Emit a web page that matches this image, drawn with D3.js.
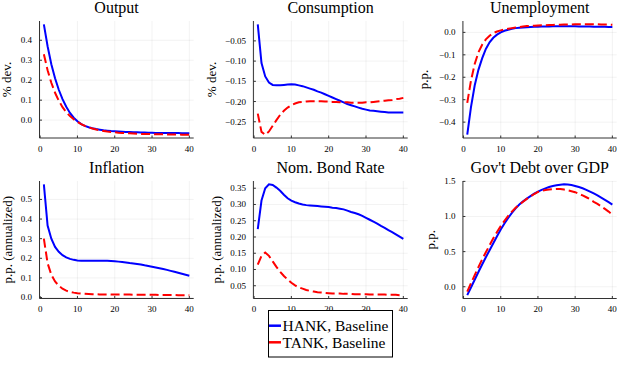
<!DOCTYPE html>
<html lang="en">
<head>
<meta charset="UTF-8" />
<title>HANK vs TANK - impulse responses</title>
<style>
  body { margin: 0; background: #fff; }
  svg { display: block; font-family: "Liberation Serif", "DejaVu Serif", serif; }
  .grid { stroke: #000; stroke-opacity: 0.1; stroke-width: 0.5; }
  .axis { stroke: #333; stroke-width: 1; }
  .tick { stroke: #333; stroke-width: 1; }
  .tick-label { font-size: 9px; fill: #000; }
  .title { font-size: 16px; text-anchor: middle; fill: #000; }
  .ylabel { font-size: 13px; text-anchor: middle; fill: #000; }
  .hank { fill: none; stroke: #0000ff; stroke-width: 2; }
  .tank { fill: none; stroke: #ff0000; stroke-width: 2; stroke-dasharray: 9,4; }
  .legend-text { font-size: 15.5px; fill: #000; }
</style>
</head>
<body>
<svg id="chart" width="625" height="375"></svg>
<script src="https://cdn.jsdelivr.net/npm/d3@7"></script>
<script>
// quarters after the shock
const periods = d3.range(1, 41);
const xTicks = [0, 10, 20, 30, 40];

const hankOutput = [0.48, 0.37, 0.28, 0.21, 0.152, 0.105, 0.067, 0.036, 0.012, -0.006,
  -0.02, -0.029, -0.036, -0.041, -0.045, -0.048, -0.051, -0.053, -0.055, -0.056,
  -0.057, -0.058, -0.059, -0.06, -0.061, -0.061, -0.062, -0.062, -0.063, -0.063,
  -0.064, -0.064, -0.064, -0.065, -0.065, -0.065, -0.065, -0.066, -0.066, -0.066];
const tankOutput = [0.33, 0.25, 0.187, 0.137, 0.097, 0.065, 0.04, 0.02, 0.004, -0.009,
  -0.02, -0.029, -0.036, -0.042, -0.047, -0.051, -0.054, -0.057, -0.059, -0.061,
  -0.063, -0.064, -0.065, -0.066, -0.067, -0.068, -0.069, -0.069, -0.07, -0.07,
  -0.071, -0.071, -0.071, -0.072, -0.072, -0.072, -0.072, -0.073, -0.073, -0.073];

const hankCons = [-0.009, -0.105, -0.138, -0.153, -0.159, -0.16, -0.16, -0.159, -0.158, -0.157,
  -0.158, -0.16, -0.162, -0.165, -0.168, -0.171, -0.175, -0.178, -0.182, -0.186,
  -0.19, -0.194, -0.198, -0.202, -0.206, -0.209, -0.212, -0.215, -0.218, -0.22,
  -0.222, -0.223, -0.224, -0.225, -0.226, -0.227, -0.227, -0.227, -0.227, -0.227];
const tankCons = [-0.23, -0.275, -0.282, -0.274, -0.26, -0.246, -0.233, -0.223, -0.215, -0.209,
  -0.205, -0.202, -0.201, -0.2, -0.199, -0.199, -0.199, -0.199, -0.2, -0.2,
  -0.201, -0.201, -0.202, -0.202, -0.202, -0.203, -0.203, -0.203, -0.203, -0.202,
  -0.202, -0.201, -0.2, -0.199, -0.198, -0.197, -0.196, -0.194, -0.193, -0.191];

const hankUnemp = [-0.456, -0.333, -0.237, -0.167, -0.116, -0.074, -0.044, -0.024, -0.01, 0.0,
  0.007, 0.012, 0.016, 0.019, 0.021, 0.022, 0.023, 0.024, 0.025, 0.025,
  0.026, 0.026, 0.026, 0.027, 0.027, 0.027, 0.027, 0.027, 0.027, 0.027,
  0.026, 0.026, 0.026, 0.026, 0.025, 0.025, 0.025, 0.025, 0.024, 0.024];
const tankUnemp = [-0.314, -0.215, -0.141, -0.089, -0.055, -0.031, -0.015, -0.003, 0.004, 0.009,
  0.013, 0.016, 0.019, 0.022, 0.024, 0.026, 0.028, 0.029, 0.03, 0.031,
  0.032, 0.032, 0.033, 0.033, 0.034, 0.034, 0.035, 0.035, 0.035, 0.036,
  0.036, 0.036, 0.036, 0.036, 0.036, 0.036, 0.035, 0.035, 0.035, 0.034];

const hankInfl = [0.577, 0.367, 0.3, 0.258, 0.233, 0.216, 0.205, 0.197, 0.192, 0.189,
  0.188, 0.188, 0.188, 0.188, 0.188, 0.188, 0.187, 0.187, 0.186, 0.185,
  0.183, 0.181, 0.179, 0.176, 0.174, 0.171, 0.168, 0.164, 0.161, 0.157,
  0.153, 0.149, 0.145, 0.141, 0.136, 0.131, 0.126, 0.121, 0.116, 0.111];
const tankInfl = [0.3, 0.175, 0.116, 0.082, 0.06, 0.045, 0.035, 0.029, 0.025, 0.022,
  0.02, 0.019, 0.018, 0.017, 0.017, 0.016, 0.016, 0.016, 0.015, 0.015,
  0.015, 0.015, 0.015, 0.015, 0.014, 0.014, 0.014, 0.014, 0.014, 0.014,
  0.014, 0.013, 0.013, 0.013, 0.013, 0.013, 0.012, 0.012, 0.012, 0.012];

const hankRate = [0.224, 0.312, 0.35, 0.362, 0.36, 0.352, 0.342, 0.33, 0.319, 0.312,
  0.307, 0.303, 0.3, 0.298, 0.297, 0.296, 0.295, 0.294, 0.293, 0.292,
  0.29, 0.289, 0.287, 0.285, 0.281, 0.277, 0.274, 0.27, 0.265, 0.259,
  0.253, 0.247, 0.241, 0.234, 0.228, 0.221, 0.215, 0.208, 0.201, 0.194];
const tankRate = [0.115, 0.142, 0.152, 0.142, 0.125, 0.108, 0.093, 0.08, 0.069, 0.059,
  0.051, 0.045, 0.041, 0.037, 0.034, 0.032, 0.03, 0.029, 0.028, 0.027,
  0.026, 0.026, 0.026, 0.025, 0.025, 0.025, 0.024, 0.024, 0.024, 0.024,
  0.023, 0.023, 0.023, 0.023, 0.023, 0.022, 0.022, 0.022, 0.021, 0.021];

const hankDebt = [-0.12, -0.01, 0.1, 0.21, 0.317, 0.42, 0.52, 0.62, 0.72, 0.815,
  0.9, 0.98, 1.05, 1.115, 1.17, 1.215, 1.255, 1.29, 1.325, 1.355,
  1.38, 1.4, 1.42, 1.435, 1.445, 1.453, 1.458, 1.455, 1.447, 1.435,
  1.42, 1.402, 1.38, 1.355, 1.328, 1.3, 1.27, 1.238, 1.205, 1.17];
const tankDebt = [-0.07, 0.05, 0.165, 0.28, 0.389, 0.49, 0.59, 0.69, 0.78, 0.863,
  0.94, 1.01, 1.07, 1.125, 1.17, 1.21, 1.25, 1.285, 1.32, 1.35,
  1.364, 1.376, 1.385, 1.39, 1.393, 1.39, 1.383, 1.373, 1.36, 1.346,
  1.323, 1.3, 1.274, 1.245, 1.209, 1.18, 1.145, 1.108, 1.07, 1.028];

const outputTicks = [0.0, 0.1, 0.2, 0.3, 0.4];
const consTicks = [-0.25, -0.2, -0.15, -0.1, -0.05];
const unempTicks = [-0.4, -0.3, -0.2, -0.1, 0.0];
const inflTicks = [0.0, 0.1, 0.2, 0.3, 0.4, 0.5];
const rateTicks = [0.05, 0.1, 0.15, 0.2, 0.25, 0.3, 0.35];
const debtTicks = [0.0, 0.5, 1.0, 1.5];

const seriesNames = ["HANK, Baseline", "TANK, Baseline"];

// plot boxes: [left, top, right, bottom], ylabel x
const panels = [
  { title: "Output", ylabel: "% dev.", hank: hankOutput, tank: tankOutput, ticks: outputTicks, fmt: ".1f", box: [39.5, 21, 193.7, 138], lx: 6 },
  { title: "Consumption", ylabel: "% dev.", hank: hankCons, tank: tankCons, ticks: consTicks, fmt: ".2f", box: [253.4, 21, 407.7, 138], lx: 211 },
  { title: "Unemployment", ylabel: "p.p.", hank: hankUnemp, tank: tankUnemp, ticks: unempTicks, fmt: ".1f", box: [462.9, 21, 616.7, 138], lx: 423 },
  { title: "Inflation", ylabel: "p.p. (annualized)", hank: hankInfl, tank: tankInfl, ticks: inflTicks, fmt: ".1f", box: [39.5, 181, 193.7, 298.5], lx: 7 },
  { title: "Nom. Bond Rate", ylabel: "p.p. (annualized)", hank: hankRate, tank: tankRate, ticks: rateTicks, fmt: ".2f", box: [253.4, 181, 407.7, 298.5], lx: 216 },
  { title: "Gov't Debt over GDP", ylabel: "p.p.", hank: hankDebt, tank: tankDebt, ticks: debtTicks, fmt: ".1f", box: [462.9, 181, 616.7, 298.5], lx: 430 }
];

const svg = d3.select("#chart");

// widen like Plots.jl does (3% each side)
function widen(lo, hi) {
  const pad = (hi - lo) * 0.03;
  return [lo - pad, hi + pad];
}

panels.forEach(p => {
  const [x0, y0, x1, y1] = p.box;
  const x = d3.scaleLinear().domain(widen(1, 40)).range([x0, x1]);
  const all = p.hank.concat(p.tank);
  const y = d3.scaleLinear().domain(widen(d3.min(all), d3.max(all))).range([y1, y0]);
  const g = svg.append("g");
  const fmt = d3.format(p.fmt);

  // grid
  g.selectAll(".gx").data(xTicks).enter().append("line")
    .attr("class", "grid")
    .attr("x1", d => x(d)).attr("x2", d => x(d))
    .attr("y1", y0).attr("y2", y1);
  g.selectAll(".gy").data(p.ticks).enter().append("line")
    .attr("class", "grid")
    .attr("x1", x0).attr("x2", x1)
    .attr("y1", d => y(d)).attr("y2", d => y(d));

  // axes (left + bottom only)
  g.append("line").attr("class", "axis")
    .attr("x1", x0).attr("x2", x0).attr("y1", y0).attr("y2", y1);
  g.append("line").attr("class", "axis")
    .attr("x1", x0).attr("x2", x1).attr("y1", y1).attr("y2", y1);

  // ticks point inward
  g.selectAll(".ty").data(p.ticks).enter().append("line")
    .attr("class", "tick")
    .attr("x1", x0).attr("x2", x0 + 2.5)
    .attr("y1", d => y(d)).attr("y2", d => y(d));
  g.selectAll(".tx").data(xTicks).enter().append("line")
    .attr("class", "tick")
    .attr("x1", d => x(d)).attr("x2", d => x(d))
    .attr("y1", y1).attr("y2", y1 - 2.5);

  g.selectAll(".ly").data(p.ticks).enter().append("text")
    .attr("class", "tick-label")
    .attr("x", x0 - 7.5)
    .attr("y", d => y(d))
    .attr("dy", "0.33em")
    .attr("text-anchor", "end")
    .text(d => fmt(d));
  g.selectAll(".lx").data(xTicks).enter().append("text")
    .attr("class", "tick-label")
    .attr("x", d => x(d))
    .attr("y", y1 + 13.5)
    .attr("text-anchor", "middle")
    .text(d => d);

  const line = d3.line().x((d, i) => x(periods[i])).y(d => y(d));
  g.append("path").attr("class", "hank").attr("d", line(p.hank));
  g.append("path").attr("class", "tank").attr("d", line(p.tank));

  g.append("text").attr("class", "title")
    .attr("x", (x0 + x1) / 2)
    .attr("y", y0 - 8)
    .text(p.title);

  g.append("text").attr("class", "ylabel")
    .attr("transform", `translate(${p.lx},${(y0 + y1) / 2}) rotate(-90)`)
    .attr("dy", "0.35em")
    .text(p.ylabel);
});

// legend sits over the middle bottom panel's tick labels
const legend = svg.append("g").attr("transform", "translate(268.5,310.5)");
legend.append("rect")
  .attr("width", 124).attr("height", 46.5)
  .attr("fill", "#fff").attr("stroke", "#000").attr("stroke-width", 1);
seriesNames.forEach((name, i) => {
  const cy = 15.2 + i * 16.6;
  legend.append("line")
    .attr("x1", 0.5).attr("x2", 12.5)
    .attr("y1", cy).attr("y2", cy)
    .attr("stroke", i === 0 ? "#0000ff" : "#ff0000")
    .attr("stroke-width", 2.5);
  legend.append("text")
    .attr("class", "legend-text")
    .attr("x", 14)
    .attr("y", cy)
    .attr("dy", "0.35em")
    .text(name);
});
</script>
</body>
</html>
